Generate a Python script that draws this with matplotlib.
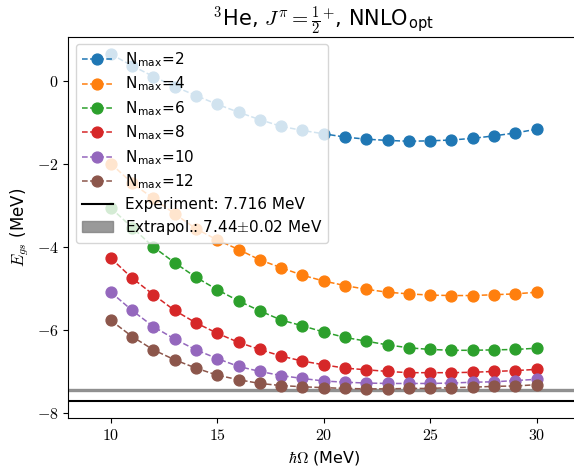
"""3He ground-state energy vs oscillator frequency, NNLO_opt"""

import matplotlib
matplotlib.use("Agg")
import matplotlib.pyplot as plt
from matplotlib.ticker import FuncFormatter

# hbar*Omega values (MeV)
hw = list(range(10, 31))

# ground-state energies per Nmax (MeV)
e_nmax2 = [0.65, 0.37, 0.11, -0.13, -0.35, -0.56, -0.75, -0.93, -1.09, -1.19,
           -1.27, -1.35, -1.40, -1.43, -1.45, -1.44, -1.42, -1.38, -1.32, -1.25, -1.16]
e_nmax4 = [-1.99, -2.46, -2.83, -3.20, -3.56, -3.83, -4.06, -4.31, -4.50, -4.68,
           -4.82, -4.93, -5.02, -5.09, -5.13, -5.16, -5.17, -5.17, -5.15, -5.13, -5.09]
e_nmax6 = [-3.06, -3.53, -4.00, -4.38, -4.73, -5.03, -5.30, -5.54, -5.76, -5.90,
           -6.05, -6.18, -6.27, -6.36, -6.43, -6.47, -6.49, -6.49, -6.48, -6.47, -6.44]
e_nmax8 = [-4.27, -4.75, -5.15, -5.53, -5.83, -6.08, -6.30, -6.47, -6.63, -6.75,
           -6.84, -6.92, -6.96, -7.00, -7.03, -7.03, -7.03, -7.02, -7.00, -6.98, -6.95]
e_nmax10 = [-5.09, -5.53, -5.92, -6.22, -6.48, -6.69, -6.88, -7.00, -7.10, -7.17,
            -7.23, -7.26, -7.28, -7.29, -7.29, -7.29, -7.28, -7.26, -7.25, -7.22, -7.19]
e_nmax12 = [-5.77, -6.16, -6.48, -6.72, -6.92, -7.09, -7.20, -7.29, -7.34, -7.37,
            -7.39, -7.41, -7.42, -7.42, -7.41, -7.41, -7.39, -7.38, -7.36, -7.35, -7.32]

nmax_values = [2, 4, 6, 8, 10, 12]
energies = [e_nmax2, e_nmax4, e_nmax6, e_nmax8, e_nmax10, e_nmax12]

e_experiment = -7.716
e_extrapol = -7.44
e_extrapol_err = 0.02

plt.rcParams['font.family'] = ['DejaVu Sans']
plt.rcParams['mathtext.fontset'] = 'cm'

fig = plt.figure(figsize=(5.74, 4.74), dpi=100)
axes = fig.add_axes([0.119, 0.1175, 0.890, 0.805])

for nmax, energy in zip(nmax_values, energies):
    axes.plot(hw, energy, 'o--', ms=7.8, lw=1.1,
              label=r'N$_{\mathregular{max}}$=' + str(nmax))

axes.axhline(e_experiment, color='black', lw=1.5,
             label='Experiment: %.3f MeV' % -e_experiment)
axes.axhspan(e_extrapol - e_extrapol_err, e_extrapol + e_extrapol_err,
             color='grey', alpha=0.8,
             label=r'Extrapol.: %.2f$\pm$%.2f MeV' % (-e_extrapol, e_extrapol_err))

axes.set_xlim(8, 32)
axes.set_ylim(-8.13, 1.07)
axes.set_xticks([10, 15, 20, 25, 30])
axes.set_yticks([0, -2, -4, -6, -8])
math_fmt = FuncFormatter(lambda v, pos: r'$%d$' % v)
axes.xaxis.set_major_formatter(math_fmt)
axes.yaxis.set_major_formatter(math_fmt)
axes.tick_params(labelsize=11.5)

axes.set_xlabel(r'$\hbar\Omega$ (MeV)', fontsize=11.5)
axes.set_ylabel(r'$E_{gs}$ (MeV)', fontsize=12)
axes.set_title(r'${}^{3}$He, $J^{\pi}=\frac{1}{2}^{+}$, NNLO$_{\mathregular{opt}}$',
               fontsize=15, pad=8)

axes.legend(loc='upper left', fontsize=11, labelspacing=0.38,
            handlelength=2.0, handletextpad=0.8, borderaxespad=0.5)

fig.savefig('out.png', dpi=100)
